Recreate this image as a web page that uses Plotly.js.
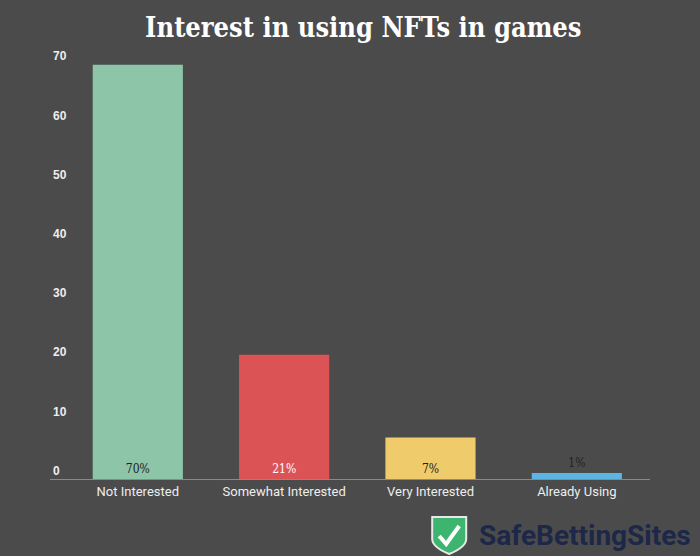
<!DOCTYPE html>
<html><head><meta charset="utf-8">
<script src="https://cdn.plot.ly/plotly-3.0.1.min.js"></script>
<style>html,body{margin:0;padding:0;background:#4b4b4b;}#chart{width:700px;height:556px;}</style>
</head><body><div id="chart"></div>
<script>
const categories = ["Not Interested", "Somewhat Interested", "Very Interested", "Already Using"];
const values = [70, 21, 7, 1];
const labels = ["70%", "21%", "7%", "1%"];
const barColors = ["#8dc5a8", "#dc5355", "#efcb6b", "#5db5e4"];
const labelColors = ["#222222", "#ffffff", "#222222", "#222222"];
const yTicks = [0, 10, 20, 30, 40, 50, 60, 70];

const trace = {
  type: "bar",
  x: categories,
  y: values,
  text: labels,
  textposition: "auto",
  insidetextanchor: "start",
  textangle: 0,
  constraintext: "none",
  cliponaxis: false,
  marker: {color: barColors},
  textfont: {family: "DejaVu Serif Condensed, DejaVu Serif, serif", size: 12, color: labelColors},
  insidetextfont: {family: "DejaVu Serif Condensed, DejaVu Serif, serif", size: 12, color: labelColors},
  outsidetextfont: {family: "DejaVu Serif Condensed, DejaVu Serif, serif", size: 12, color: labelColors},
  hoverinfo: "none"
};

const layout = {
  width: 700, height: 556,
  paper_bgcolor: "#4b4b4b",
  plot_bgcolor: "#4b4b4b",
  margin: {l: 50, r: 50, t: 41, b: 77},
  bargap: 0.384,
  showlegend: false,
  title: {
    text: "<b>Interest in using NFTs in games</b>",
    x: 0.519, xanchor: "center", xref: "container",
    y: 0.95, yanchor: "middle", yref: "container",
    font: {family: "DejaVu Serif Condensed, DejaVu Serif, serif", size: 27, color: "#ffffff"}
  },
  xaxis: {
    range: [-0.6, 3.5],
    showline: true, linecolor: "#8a8a8a", linewidth: 1,
    showgrid: false, zeroline: false, ticks: "",
    tickfont: {family: "Roboto, sans-serif", size: 13, color: "#eeeeee"}
  },
  yaxis: {
    range: [0, 74],
    tickvals: yTicks,
    showline: false, showgrid: false, zeroline: false, ticks: "",
    ticklabelposition: "inside top",
    tickfont: {family: "Liberation Sans, Arial, sans-serif", size: 12, color: "#eeeeee", weight: "bold"}
  },
  shapes: [
    {type: "path", xref: "paper", yref: "paper", xsizemode: "pixel", ysizemode: "pixel",
     xanchor: 0.637, yanchor: -0.0868,
     path: "M0,0 L34,0 L34,-22 Q34,-30 17,-37 Q0,-30 0,-22 Z",
     fillcolor: "#3db56f", line: {color: "#e8e8e8", width: 2}},
    {type: "path", xref: "paper", yref: "paper", xsizemode: "pixel", ysizemode: "pixel",
     xanchor: 0.637, yanchor: -0.0868,
     path: "M7,-19 L14,-27 L27,-9",
     line: {color: "#ffffff", width: 4}}
  ],
  annotations: [
    {text: "<b>SafeBettingSites</b>", xref: "paper", yref: "paper",
     x: 0.711, y: -0.128, xanchor: "left", yanchor: "middle", showarrow: false,
     font: {family: "Roboto, sans-serif", size: 28, color: "#1d2748"}}
  ]
};

Plotly.newPlot("chart", [trace], layout, {displayModeBar: false, staticPlot: true});
</script></body></html>
